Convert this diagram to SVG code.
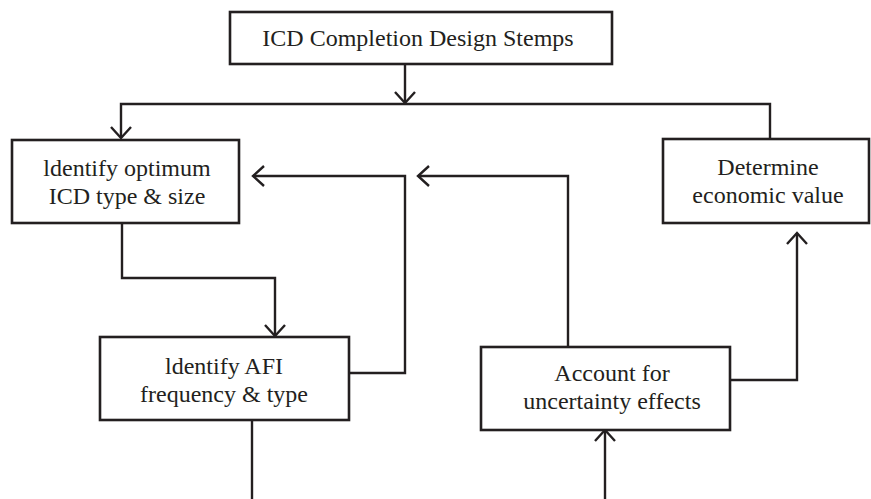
<svg xmlns="http://www.w3.org/2000/svg" width="871" height="499" viewBox="0 0 871 499">
<defs>
<style>
.box{fill:#fff;stroke:#231f20;stroke-width:2.6}
.c{fill:none;stroke:#231f20;stroke-width:2.4}
.t{font-family:"Liberation Serif","Times New Roman",serif;font-size:24px;fill:#231f20;text-anchor:middle}
</style>
<marker id="ah" viewBox="-13 -12 15 24" markerWidth="15" markerHeight="24" refX="0" refY="0" orient="auto" markerUnits="userSpaceOnUse">
<path d="M-11,-10 L0,0 L-11,10" fill="none" stroke="#231f20" stroke-width="2.4"/>
</marker>
</defs>
<rect width="871" height="499" fill="#fff"/>
<g id="connectors">
<path class="c" d="M405,64 V103" marker-end="url(#ah)"/>
<path class="c" d="M405,104 H121 V138" marker-end="url(#ah)"/>
<path class="c" d="M405,104 H770 V139"/>
<path class="c" d="M122,223 V278 H275 V336" marker-end="url(#ah)"/>
<path class="c" d="M349,373 H405 V176 H253" marker-end="url(#ah)"/>
<path class="c" d="M568,347 V176 H418" marker-end="url(#ah)"/>
<path class="c" d="M730,380 H797 V233" marker-end="url(#ah)"/>
<path class="c" d="M252,420 V499"/>
<path class="c" d="M605,499 V430" marker-end="url(#ah)"/>
</g>
<g id="node-top">
<rect class="box" x="230" y="12" width="382" height="52"/>
<text class="t" x="418" y="46">ICD Completion Design Stemps</text>
</g>
<g id="node-icd">
<rect class="box" x="12" y="140" width="227" height="83"/>
<text class="t" x="127" y="176">ldentify optimum</text>
<text class="t" x="127" y="204">ICD type &amp; size</text>
</g>
<g id="node-afi">
<rect class="box" x="100" y="337" width="249" height="83"/>
<text class="t" x="224" y="374">ldentify AFI</text>
<text class="t" x="224" y="402">frequency &amp; type</text>
</g>
<g id="node-uncertainty">
<rect class="box" x="481" y="347" width="249" height="83"/>
<text class="t" x="612" y="381">Account for</text>
<text class="t" x="612" y="409">uncertainty effects</text>
</g>
<g id="node-economic">
<rect class="box" x="663" y="139" width="206" height="84"/>
<text class="t" x="768" y="175">Determine</text>
<text class="t" x="768" y="203">economic value</text>
</g>
</svg>
